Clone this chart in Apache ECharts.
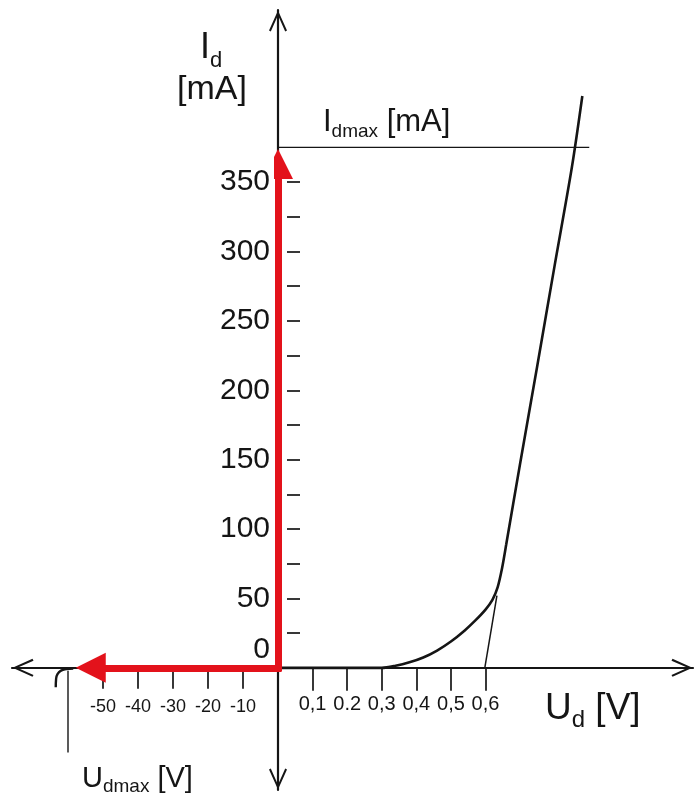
<!DOCTYPE html>
<html>
<head>
<meta charset="utf-8">
<script src="https://cdn.jsdelivr.net/npm/echarts@6/dist/echarts.min.js"></script>
<style>
  html, body { margin: 0; padding: 0; background: #fff; }
  #chart { width: 695px; height: 794px; }
</style>
</head>
<body>
<div id="chart"></div>
<script>
// Forward branch of the diode characteristic: voltage (V) and current (mA)
const forwardU = [0, 0.30, 0.34, 0.38, 0.42, 0.46, 0.50, 0.54, 0.57, 0.60, 0.62, 0.635, 0.648, 0.66, 0.70, 0.75, 0.80, 0.85, 0.88];
const forwardI = [0, 0, 1.5, 4, 7.5, 12.5, 19, 27, 34, 42, 49, 58, 72, 89, 147, 218, 290, 361, 412];

// Tangent to the linear part, crossing the voltage axis at the threshold
const tangentU = [0.598, 0.633];
const tangentI = [0, 52];

// Maximum forward current line
const idmaxU = [-0.038, 0.90];
const idmaxI = [375, 375];

// Reverse branch: breakdown bend near the maximum reverse voltage
const reverseU = [-58.5, -60.5, -62, -63, -63.4, -63.5];
const reverseI = [-0.5, -0.9, -2, -4.5, -8, -14];

// Maximum reverse voltage marker
const udmaxU = [-60, -60];
const udmaxI = [-2, -61];

// Red direction arrows (forward current, reverse voltage)
const currentArrowU = [0, 0];
const currentArrowI = [0, 363];
const voltageArrowU = [0, -53.5];
const voltageArrowI = [0, 0];

// Axis ticks and labels
const yTickValues = [25, 50, 75, 100, 125, 150, 175, 200, 225, 250, 275, 300, 325, 350];
const yLabelValues = [0, 50, 100, 150, 200, 250, 300, 350];
const posTickValues = [0.1, 0.2, 0.3, 0.4, 0.5, 0.6];
const posTickLabels = ['0,1', '0.2', '0,3', '0,4', '0,5', '0,6'];
const negTickValues = [-50, -40, -30, -20, -10];
const negTickLabels = ['-50', '-40', '-30', '-20', '-10'];

const font = "'Liberation Sans', Arial, Helvetica, sans-serif";
const ink = '#151515';
const red = '#e3121b';
// open arrow head used at the ends of the axes
const chevron = 'path://M9 0 L18 20 L16.2 21 L9 4.8 L1.8 21 L0 20 Z';

// plot area: both grids share the current range, the voltage axes sit on I = 0
const gridTop = 10;
const gridHeight = 780;
const currentMin = -88;
const currentMax = 474;
const zeroOffset = -gridHeight * (0 - currentMin) / (currentMax - currentMin);

const zip = (xs, ys) => xs.map((x, i) => [x, ys[i]]);
const pick = (values, labels) => v => {
  const i = values.findIndex(t => Math.abs(t - Number(v)) < 1e-9);
  return i < 0 ? '' : labels[i];
};

// Rich text with a subscript part: main text, subscript, tail
function subscriptText(x, capTop, main, sub, tail, size, subSize, drop) {
  const lh = Math.round(size * 1.1);
  const mainBase = lh / 2 + 0.31 * size;
  const subPad = Math.max(0, mainBase + drop - (subSize / 2 + 0.31 * subSize));
  return {
    type: 'text',
    x: x,
    y: capTop + 4 - (mainBase - 0.716 * size),
    style: {
      text: '{m|' + main + '}{s|' + sub + '}{m|' + tail + '}',
      rich: {
        m: { fontSize: size, fontFamily: font, fill: ink, lineHeight: lh, verticalAlign: 'top' },
        s: { fontSize: subSize, fontFamily: font, fill: ink, lineHeight: subSize, verticalAlign: 'top', padding: [subPad, 0, 0, 0] }
      }
    },
    z: 10
  };
}

function plainText(x, capTop, text, size) {
  const lh = Math.round(size * 1.1);
  return {
    type: 'text',
    x: x,
    y: capTop + 4 - (lh / 2 + 0.31 * size - 0.716 * size),
    style: {
      text: '{m|' + text + '}',
      rich: { m: { fontSize: size, fontFamily: font, fill: ink, lineHeight: lh, verticalAlign: 'top' } }
    },
    z: 10
  };
}

const axisLineStyle = { color: ink, width: 2.2 };
const tickStyle = { color: ink, width: 1.7 };

const option = {
  backgroundColor: '#ffffff',
  animation: false,
  grid: [
    { left: 12, width: 266, top: gridTop, height: gridHeight, containLabel: false, outerBoundsMode: 'none' },
    { left: 278, width: 415, top: gridTop, height: gridHeight, containLabel: false, outerBoundsMode: 'none' }
  ],
  xAxis: [
    {
      gridIndex: 0, type: 'value', min: -76, max: 0, position: 'bottom', offset: zeroOffset,
      splitLine: { show: false },
      axisLine: { onZero: false, lineStyle: axisLineStyle, symbol: [chevron, 'none'], symbolSize: [18, 22], symbolOffset: [11, 0] },
      axisTick: { customValues: negTickValues, length: 21, lineStyle: tickStyle },
      axisLabel: {
        customValues: negTickValues, formatter: pick(negTickValues, negTickLabels),
        fontSize: 18, margin: 30, color: ink, fontFamily: font
      }
    },
    {
      gridIndex: 1, type: 'value', min: 0, max: 1.2, position: 'bottom', offset: zeroOffset,
      splitLine: { show: false },
      axisLine: { onZero: false, lineStyle: axisLineStyle, symbol: ['none', chevron], symbolSize: [18, 22], symbolOffset: [0, -11] },
      axisTick: { customValues: posTickValues, length: 23, lineStyle: tickStyle },
      axisLabel: {
        customValues: posTickValues, formatter: pick(posTickValues, posTickLabels),
        fontSize: 20, margin: 27, color: ink, fontFamily: font
      }
    }
  ],
  yAxis: [
    {
      gridIndex: 0, type: 'value', min: currentMin, max: currentMax, position: 'left',
      splitLine: { show: false }, axisLine: { show: false }, axisTick: { show: false }, axisLabel: { show: false }
    },
    {
      gridIndex: 1, type: 'value', min: currentMin, max: currentMax, position: 'left',
      splitLine: { show: false },
      axisLine: { onZero: true, lineStyle: axisLineStyle, symbol: [chevron, chevron], symbolSize: [18, 22], symbolOffset: [11, -11] },
      axisTick: { show: false },
      axisLabel: {
        customValues: yLabelValues,
        formatter: v => (v === 0 ? '{z|0}' : String(v)),
        fontSize: 30, margin: 8, color: ink, fontFamily: font,
        rich: { z: { fontSize: 30, fontFamily: font, color: ink, padding: [0, 0, 36, 0] } }
      }
    },
    {
      gridIndex: 1, type: 'value', min: currentMin, max: currentMax, position: 'left', offset: -9,
      splitLine: { show: false },
      axisLine: { show: false, onZero: false },
      axisTick: { customValues: yTickValues, inside: true, length: 13, lineStyle: tickStyle },
      axisLabel: { show: false }
    }
  ],
  series: [
    {
      type: 'line', xAxisIndex: 1, yAxisIndex: 1, data: zip(forwardU, forwardI),
      smooth: 0.3, symbol: 'none',
      lineStyle: { color: ink, width: 2.6 }, z: 3
    },
    {
      type: 'line', xAxisIndex: 1, yAxisIndex: 1, data: zip(tangentU, tangentI),
      symbol: 'none', lineStyle: { color: ink, width: 1.5 }, z: 3
    },
    {
      type: 'line', xAxisIndex: 1, yAxisIndex: 1, data: zip(idmaxU, idmaxI),
      symbol: 'none', clip: false, lineStyle: { color: ink, width: 1.4 }, z: 3
    },
    {
      type: 'line', xAxisIndex: 0, yAxisIndex: 0, data: zip(reverseU, reverseI),
      smooth: 0.5, symbol: 'none', lineStyle: { color: ink, width: 2.4 }, z: 3
    },
    {
      type: 'line', xAxisIndex: 0, yAxisIndex: 0, data: zip(udmaxU, udmaxI),
      symbol: 'none', lineStyle: { color: ink, width: 1.4 }, z: 3
    },
    {
      type: 'lines', coordinateSystem: 'cartesian2d', xAxisIndex: 1, yAxisIndex: 1,
      data: [{ coords: zip(currentArrowU, currentArrowI) }],
      symbol: ['none', 'triangle'], symbolSize: 30,
      itemStyle: { color: red },
      lineStyle: { color: red, width: 7, opacity: 1, cap: 'square' }, z: 6
    },
    {
      type: 'lines', coordinateSystem: 'cartesian2d', xAxisIndex: 0, yAxisIndex: 0,
      data: [{ coords: zip(voltageArrowU, voltageArrowI) }],
      symbol: ['none', 'triangle'], symbolSize: 30,
      itemStyle: { color: red },
      lineStyle: { color: red, width: 7, opacity: 1, cap: 'square' }, z: 6
    }
  ],
  graphic: [
    subscriptText(200, 31, 'I', 'd', '', 36, 22, 7),
    plainText(177, 73, '[mA]', 34),
    subscriptText(323, 107, 'I', 'dmax', ' [mA]', 31, 19, 4),
    subscriptText(545, 692, 'U', 'd', ' [V]', 37, 24, 5),
    subscriptText(82, 765, 'U', 'dmax', ' [V]', 29, 19, 3)
  ]
};

const chart = echarts.init(document.getElementById('chart'), null, { renderer: 'canvas' });
chart.setOption(option);
</script>
</body>
</html>
